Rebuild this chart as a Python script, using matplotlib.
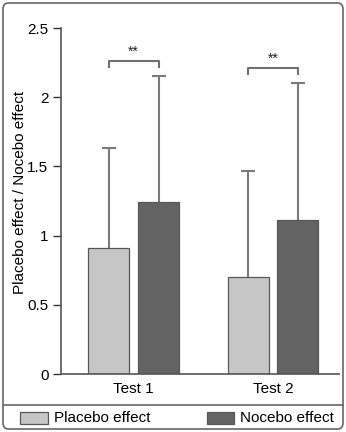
import matplotlib
matplotlib.use("Agg")
import matplotlib.pyplot as plt
from matplotlib.patches import FancyBboxPatch, Rectangle
import numpy as np

plt.rcParams['font.family'] = ['Liberation Sans', 'DejaVu Sans']

categories = ["Test 1", "Test 2"]
series_names = ["Placebo effect", "Nocebo effect"]
placebo = [0.91, 0.70]
placebo_err = [0.72, 0.77]
nocebo = [1.24, 1.11]
nocebo_err = [0.91, 0.99]
yticks = [0, 0.5, 1, 1.5, 2, 2.5]
ytick_labels = ["0", "0.5", "1", "1.5", "2", "2.5"]
sig_labels = ["**", "**"]
bracket_heights = [2.26, 2.21]

W, H = 346, 432
fig = plt.figure(figsize=(W / 100, H / 100), dpi=100)

def px(x0, y0, x1, y1):
    return [x0 / W, 1 - y1 / H, (x1 - x0) / W, (y1 - y0) / H]

ax = fig.add_axes(px(61, 28, 339, 374))
x = np.arange(1, len(categories) + 1)
bw = 0.294
off = 0.179
c_light = "#c6c6c6"
c_dark = "#636363"
edge = "#585858"
ecol = "#7a7a7a"

ax.bar(x - off, placebo, bw, color=c_light, edgecolor=edge, linewidth=0.9, zorder=2)
ax.bar(x + off, nocebo, bw, color=c_dark, edgecolor=edge, linewidth=0.9, zorder=2)
for xs, vals, errs in [(x - off, placebo, placebo_err), (x + off, nocebo, nocebo_err)]:
    eb = ax.errorbar(xs, vals, yerr=[np.zeros(len(xs)), errs], fmt='none',
                     ecolor=ecol, elinewidth=1.5, capsize=5, capthick=1.5, zorder=1)
    eb[1][0].set_visible(False)  # hide lower caps

for i, xi in enumerate(x):
    h = bracket_heights[i]
    ax.plot([xi - off, xi - off, xi + off, xi + off], [h - 0.05, h, h, h - 0.05],
            color="#707070", lw=1.5, solid_capstyle='butt', clip_on=False)
    ax.text(xi, h + 0.02, sig_labels[i], ha='center', va='bottom', fontsize=10, color="#222222")

ax.set_xlim(0.48, 2.473)
ax.set_ylim(0, 2.5)
ax.set_xticks(x)
ax.set_xticklabels(categories, fontsize=11)
ax.tick_params(axis='x', length=0, pad=6)
ax.set_yticks(yticks)
ax.set_yticklabels(ytick_labels, fontsize=11)
ax.tick_params(axis='y', direction='out', length=6, width=1, color="#333333", pad=3)
for s in ['top', 'right']:
    ax.spines[s].set_visible(False)
for s in ['left', 'bottom']:
    ax.spines[s].set_color("#555555")
    ax.spines[s].set_linewidth(1.2)
ax.set_ylabel("Placebo effect / Nocebo effect", fontsize=11)
ax.yaxis.set_label_coords(-0.124, 0.5245)

# frame around figure
frame = FancyBboxPatch((3 / W, 3 / H), (W - 6) / W, (H - 6) / H,
                       boxstyle="round,pad=0,rounding_size=0.015",
                       transform=fig.transFigure, fill=False, edgecolor="#666666", lw=1.2)
fig.patches.append(frame)
fig.add_artist(plt.Line2D([3 / W, (W - 3) / W], [1 - 405 / H, 1 - 405 / H],
                          transform=fig.transFigure, color="#666666", lw=1.2))

# legend
leg_items = [(20, 48, c_light, series_names[0], 54), (207, 234, c_dark, series_names[1], 240)]
for x0, x1, col, lab, tx in leg_items:
    fig.add_artist(Rectangle((x0 / W, 1 - 424 / H), (x1 - x0) / W, 12 / H,
                             transform=fig.transFigure, facecolor=col, edgecolor=edge, lw=0.9))
    fig.text(tx / W, 1 - 418 / H, lab, ha='left', va='center', fontsize=11)

fig.savefig("out.png", dpi=100)
